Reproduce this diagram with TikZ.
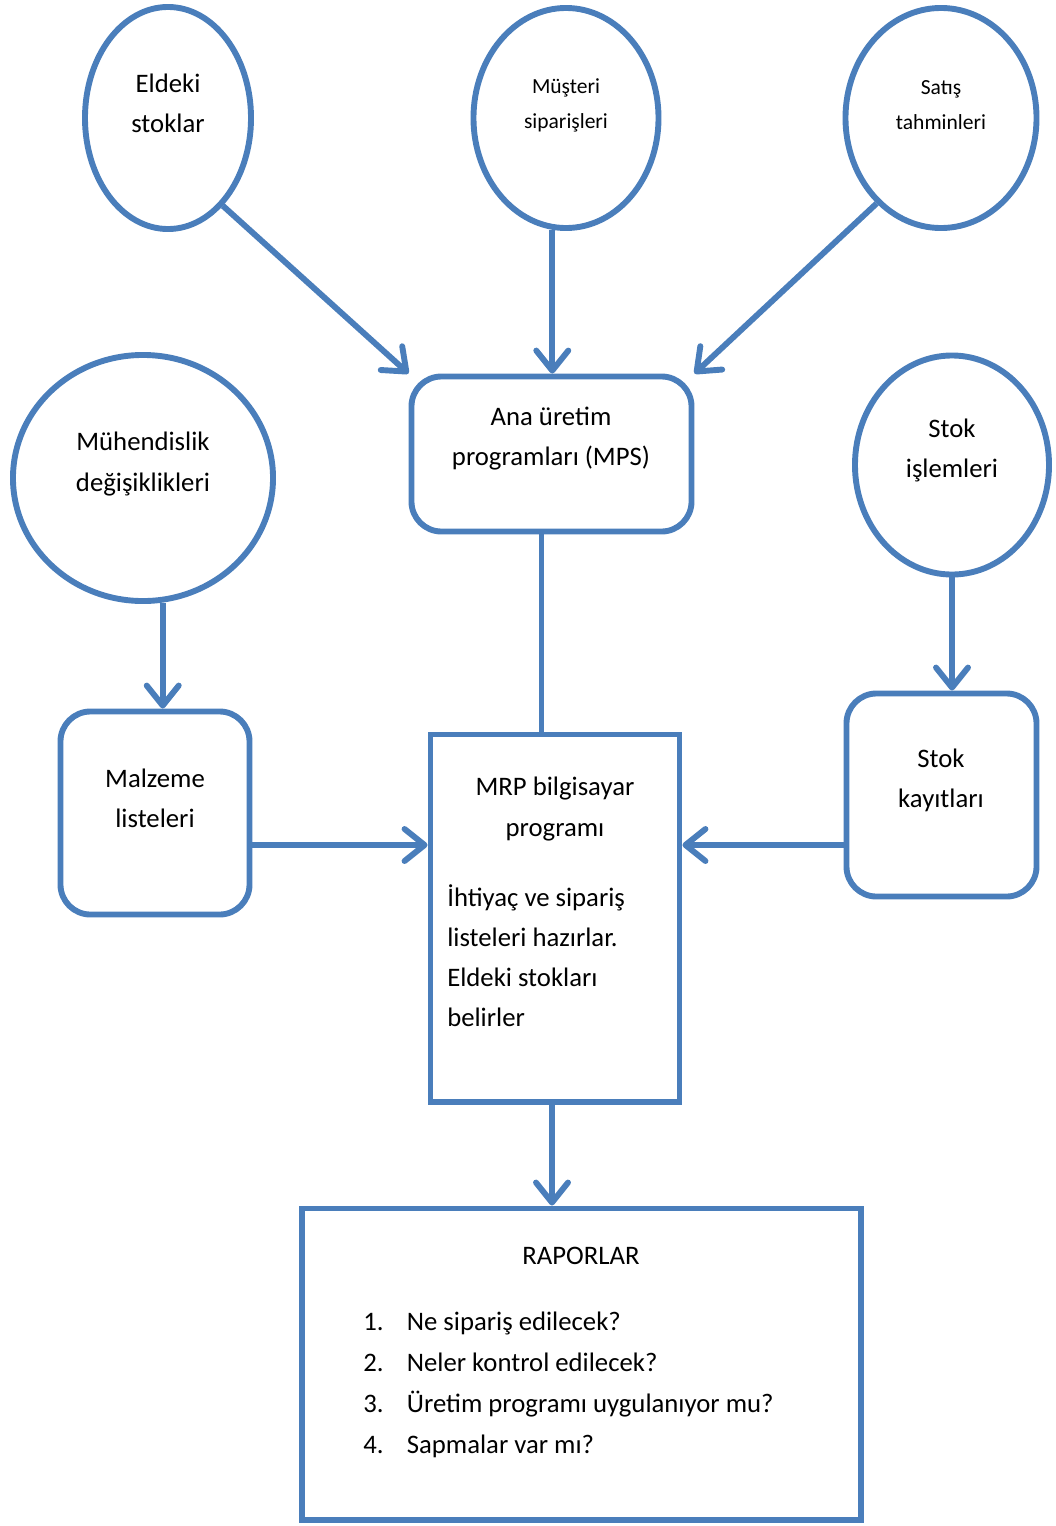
\documentclass[tikz,border=0pt]{standalone}
\usepackage{fontspec}
\setmainfont{Carlito}
\usetikzlibrary{arrows.meta, shapes.geometric}
\definecolor{mrpblue}{RGB}{74,126,187}

\tikzset{
  shp/.style={draw=mrpblue, line width=4.2pt, inner sep=0pt},
  ell/.style={shp, ellipse},
  rbox/.style={shp, rounded corners=0.75cm},
  sbox/.style={shp},
  txt/.style={align=center, inner sep=0pt, font=\fontsize{19}{28.5}\selectfont},
  stxt/.style={txt, font=\fontsize{15.3}{25}\selectfont},
  ln/.style={mrpblue, line width=4.2pt},
  arr/.style={ln, -{Straight Barb[length=0.5cm, width=0.8cm, round]}}
}

\begin{document}
\begin{tikzpicture}[x=0.025cm, y=-0.025cm]
	\useasboundingbox (0,0) rectangle (1056,1526);
	% inputs
	\node[ell, minimum width=4.15cm, minimum height=5.55cm] (eldeki) at (168,118) {};
	\node[ell, minimum width=4.625cm, minimum height=5.5cm] (musteri) at (566,118) {};
	\node[ell, minimum width=4.775cm, minimum height=5.5cm] (satis) at (941,118) {};
	\node[ell, minimum width=6.5cm, minimum height=6.15cm] (muhendis) at (143,478) {};
	\node[ell, minimum width=4.85cm, minimum height=5.475cm] (stokis) at (952,465) {};
	\node[txt] (eldekiT) at (168,103) {Eldeki\\stoklar};
	\node[stxt] (musteriT) at (566,105) {Müşteri\\siparişleri};
	\node[stxt] (satisT) at (941,105) {Satış\\tahminleri};
	\node[txt] (muhendisT) at (143,464) {Mühendislik\\değişiklikleri};
	\node[txt] (stokisT) at (952,450) {Stok\\işlemleri};
	% boxes
	\node[rbox, minimum width=7cm, minimum height=3.875cm] (mps) at (551.5,454) {};
	\node[rbox, minimum width=4.725cm, minimum height=5.075cm] (malzeme) at (155,813) {};
	\node[rbox, minimum width=4.75cm, minimum height=5.075cm] (stokkay) at (941.5,795) {};
	\node[sbox, minimum width=6.225cm, minimum height=9.175cm] (mrp) at (555,918) {};
	\node[sbox, minimum width=13.95cm, minimum height=7.775cm] (rapor) at (581.5,1364) {};
	\node[txt] (mpsT) at (551,439) {Ana üretim\\programları (MPS)};
	\node[txt] (malzemeT) at (155,798) {Malzeme\\listeleri};
	\node[txt] (stokkayT) at (941,780) {Stok\\kayıtları};
	\node[txt] (mrpT) at (555,809) {MRP bilgisayar\\programı};
	\node[txt, align=left, anchor=west] (mrpD) at (447,956) {İhtiyaç ve sipariş\\listeleri hazırlar.\\Eldeki stokları\\belirler};
	\node[txt] (raporT) at (581,1256) {RAPORLAR};
	\foreach \q [count=\i] in {Ne sipariş edilecek?, Neler kontrol edilecek?, Üretim programı uygulanıyor mu?, Sapmalar var mı?} {
		\node[txt, anchor=base west] (soru\i) at (363,1289+41*\i) {\makebox[31pt][l]{\i.}\q};
	}
	% connectors
	\draw[arr] (eldeki.-58) -- (mps.north west);
	\draw[arr] (musteri.-97) -- (musteri.-97 |- mps.north);
	\draw[arr] (satis.-127) -- (mps.north east);
	\draw[ln] ([xshift=-0.25cm]mps.south) -- ([xshift=-0.25cm]mps.south |- mrp.north);
	\draw[arr] (muhendis.-81) -- (muhendis.-81 |- malzeme.north);
	\draw[arr] (stokis.south) -- (stokis.south |- stokkay.north);
	\draw[arr] ([yshift=-0.8cm]malzeme.east) -- ([yshift=-0.8cm]malzeme.east -| mrp.west);
	\draw[arr] ([yshift=-1.25cm]stokkay.west) -- ([yshift=-1.25cm]stokkay.west -| mrp.east);
	\draw[arr] ([xshift=-0.075cm]mrp.south) -- ([xshift=-0.075cm]mrp.south |- rapor.north);
\end{tikzpicture}
\end{document}
